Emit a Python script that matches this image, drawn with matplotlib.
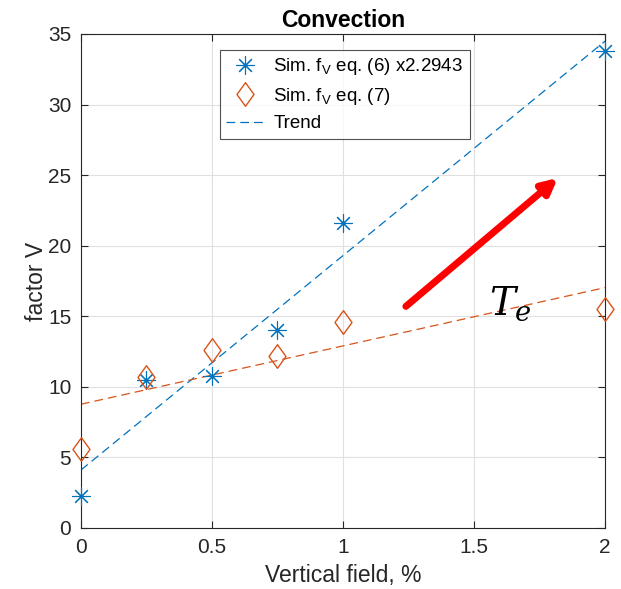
import numpy as np
import matplotlib
matplotlib.use('Agg')
from matplotlib import pyplot as plt
from matplotlib.path import Path

# data
field = [0, 0.25, 0.5, 0.75, 1, 2]
sim_eq6 = [2.3, 10.5, 10.8, 14.0, 21.6, 33.8]
sim_eq7 = [5.6, 10.7, 12.6, 12.2, 14.6, 15.5]

blue = '#0072BD'
orange = '#D95319'
plt.rcParams['font.family'] = ['Liberation Sans', 'DejaVu Sans']
plt.rcParams['mathtext.fontset'] = 'custom'
plt.rcParams['mathtext.rm'] = 'Liberation Sans'

# matlab-like diamond (a bit wider than mpl 'd')
diamond = Path([(0, 1), (0.72, 0), (0, -1), (-0.72, 0), (0, 1)],
               [Path.MOVETO, Path.LINETO, Path.LINETO, Path.LINETO, Path.CLOSEPOLY])

fig = plt.figure(figsize=(6.21, 5.89), dpi=100)
ax = fig.add_axes([0.1304, 0.1036, 0.8438, 0.8387])

# linear trends through each set
xs = np.array([0, 2])
p6 = np.polyfit(field, sim_eq6, 1)
p7 = np.polyfit(field, sim_eq7, 1)

ax.plot(field, sim_eq6, linestyle='none', marker=(8, 2, 0), color=blue, markersize=13,
        markeredgewidth=0.8, label=r'Sim. f$_{\mathrm{V}}$ eq. (6) x2.2943', zorder=3,
        clip_on=False)
ax.plot(field, sim_eq7, linestyle='none', marker=diamond, color=orange, markerfacecolor='none',
        markersize=17, markeredgewidth=1.0, label=r'Sim. f$_{\mathrm{V}}$ eq. (7)', zorder=3,
        clip_on=False)
ax.plot(xs, np.polyval(p6, xs), '--', color=blue, lw=0.9, dashes=(7, 4), label='Trend')
ax.plot(xs, np.polyval(p7, xs), '--', color=orange, lw=0.9, dashes=(7, 4))

# temperature arrow
ax.annotate('', xy=(1.82, 24.8), xytext=(1.24, 15.7),
            arrowprops=dict(arrowstyle='-|>,head_length=0.9,head_width=0.45',
                            color='red', lw=5, shrinkA=0, shrinkB=0))
ax.text(1.64, 15.9, r'$T_e$', fontsize=28, ha='center', va='center',
        math_fontfamily='dejavuserif')

ax.set_xlim(0, 2)
ax.set_ylim(0, 35)
ax.set_xticks([0, 0.5, 1, 1.5, 2])
ax.set_xticklabels(['0', '0.5', '1', '1.5', '2'])
ax.set_yticks(range(0, 36, 5))
ax.grid(True, color='#e0e0e0', lw=0.8)
ax.set_axisbelow(True)
ax.tick_params(direction='in', top=True, right=True, labelsize=15, colors='#262626',
               length=5, pad=7)
for s in ax.spines.values():
    s.set_color('#262626')
    s.set_linewidth(0.8)

ax.set_title('Convection', fontsize=16.5, fontweight='bold', pad=5)
ax.set_xlabel('Vertical field, %', fontsize=16.5, color='#262626', labelpad=5)
ax.set_ylabel('factor V', fontsize=16.5, color='#262626', labelpad=0)

leg = ax.legend(loc='upper left', bbox_to_anchor=(0.265, 0.968), fontsize=13.5,
                frameon=True, fancybox=False, edgecolor='#262626', handlelength=2.0,
                borderpad=0.35, labelspacing=0.45, handletextpad=0.5, borderaxespad=0)
leg.get_frame().set_linewidth(0.8)

fig.savefig('out.png', dpi=100)
